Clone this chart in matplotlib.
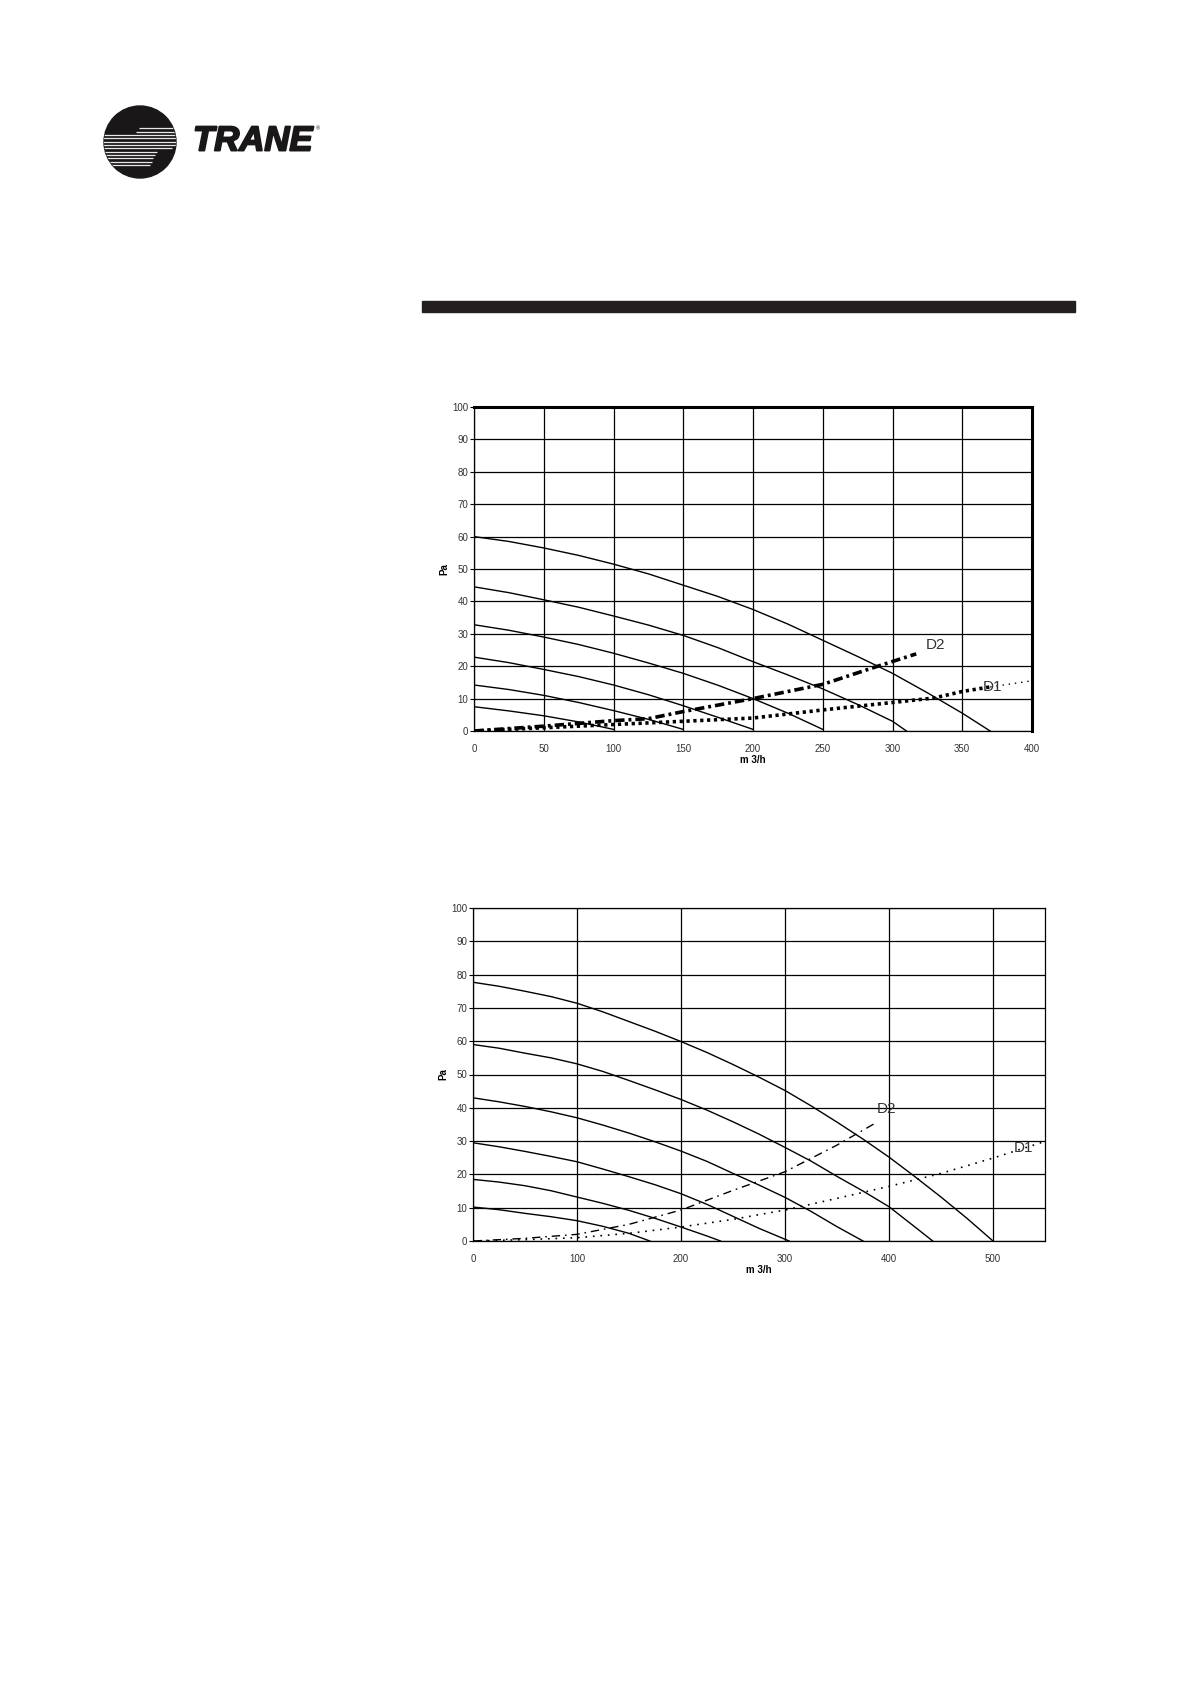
import matplotlib
matplotlib.use("Agg")
import matplotlib.pyplot as plt
import matplotlib.patches as mpatches
import matplotlib.patheffects as pe

plt.rcParams['font.family'] = ['Liberation Sans', 'DejaVu Sans']

# Chart 1 (top): fan curves and duct curves D1 / D2
top_fan_x = [
    [0, 25, 50, 75, 100, 125, 150, 175, 200, 225, 250, 275, 300, 325, 350, 370],
    [0, 25, 50, 75, 100, 125, 150, 175, 200, 225, 250, 275, 300, 310],
    [0, 25, 50, 75, 100, 125, 150, 175, 200, 225, 250],
    [0, 25, 50, 75, 100, 125, 150, 175, 200],
    [0, 25, 50, 75, 100, 125, 150],
    [0, 25, 50, 75, 100],
]
top_fan_y = [
    [60, 58.5, 56.5, 54.2, 51.5, 48.5, 45, 41.5, 37.5, 33, 28, 23, 17.8, 11.8, 5.5, 0],
    [44.5, 42.7, 40.5, 38.2, 35.5, 32.7, 29.5, 25.7, 21.4, 17.3, 13, 8.2, 3, 0],
    [32.8, 31.1, 29, 26.7, 24, 21, 17.8, 14.1, 10, 5.5, 0.5],
    [22.8, 21.1, 19, 16.8, 14.2, 11.2, 7.8, 4.2, 0.5],
    [14.2, 12.8, 11, 8.8, 6.3, 3.6, 0.5],
    [7.5, 6.2, 4.7, 2.8, 0.5],
]
top_d2_x = [0, 50, 100, 125, 150, 200, 250, 288, 317]
top_d2_y = [0, 1.5, 3.2, 3.8, 6, 10, 14.4, 19.8, 23.8]
top_d1_x = [0, 50, 100, 150, 200, 250, 300, 330, 350, 370]
top_d1_y = [0, 1.0, 2.0, 3.0, 4.0, 6.5, 8.8, 10.2, 12.2, 13.6]
top_d1_ext_x = [370, 400]
top_d1_ext_y = [13.6, 15.5]

# Chart 2 (bottom)
bot_fan_x = [
    [0, 25, 50, 75, 100, 125, 150, 175, 200, 225, 250, 275, 300, 325, 350, 375, 400, 425, 450, 475, 500],
    [0, 25, 50, 75, 100, 125, 150, 175, 200, 225, 250, 275, 300, 325, 350, 375, 400, 425, 442],
    [0, 25, 50, 75, 100, 125, 150, 175, 200, 225, 250, 275, 300, 325, 350, 375],
    [0, 25, 50, 75, 100, 125, 150, 175, 200, 225, 250, 275, 304],
    [0, 25, 50, 75, 100, 125, 150, 175, 200, 225, 238],
    [0, 25, 50, 75, 100, 125, 150, 170],
]
bot_fan_y = [
    [77.7, 76.5, 75, 73.4, 71.4, 68.8, 65.9, 63, 59.9, 56.6, 53, 49.2, 45.2, 40.6, 35.7, 30.6, 25.2, 19.3, 13.2, 6.8, 0],
    [59, 57.9, 56.4, 55, 53.2, 50.9, 48.2, 45.4, 42.5, 39.3, 35.8, 32.1, 28.1, 24, 19.4, 15, 10.3, 4.2, 0],
    [43, 41.8, 40.4, 38.8, 37, 34.8, 32.4, 29.8, 27, 23.9, 20.3, 16.8, 13.1, 8.9, 4.3, 0],
    [29.5, 28.3, 26.9, 25.4, 23.8, 21.6, 19.3, 16.9, 14.2, 11, 7.4, 3.8, 0],
    [18.5, 17.7, 16.6, 15.1, 13.2, 11.3, 9.2, 6.8, 4.2, 1.5, 0],
    [10.2, 9.4, 8.3, 7.3, 6.1, 4.4, 2.3, 0],
]
bot_d2_x = [0, 50, 100, 150, 200, 250, 300, 320, 350, 388]
bot_d2_y = [0, 0.8, 2.0, 5.0, 9.3, 15.2, 20.8, 24, 28.8, 35.6]
bot_d1_x = [0, 50, 100, 150, 200, 250, 300, 350, 400, 450, 500, 550]
bot_d1_y = [0, 0.4, 1.0, 2.3, 4.2, 6.5, 9.3, 12.8, 16.4, 20.3, 24.9, 29.9]

y_ticks = list(range(0, 101, 10))
top_x_ticks = list(range(0, 401, 50))
bot_x_ticks = list(range(0, 501, 100))

W, H = 1191, 1684
fig = plt.figure(figsize=(W / 100, H / 100), dpi=100)

# page decoration: logo and black bar, in pixel coordinates
bg = fig.add_axes([0, 0, 1, 1], zorder=0)
bg.set_xlim(0, W)
bg.set_ylim(H, 0)
bg.axis("off")
circ = mpatches.Circle((140, 142), 36, color="#1a1718")
bg.add_patch(circ)
stripes = [(128.3, 139, 174), (131.7, 136, 175), (135, 100, 177), (138.3, 100, 177),
           (141.7, 100, 177), (145, 100, 176), (148.3, 100, 172), (151.7, 100, 157),
           (155, 100, 155), (158.3, 100, 153), (161.7, 100, 152), (165, 100, 150)]
for sy, sx0, sx1 in stripes:
    ln, = bg.plot([sx0, sx1], [sy, sy], color="#e8e8e8", lw=0.9, solid_capstyle="butt")
    ln.set_clip_path(circ)
bg.text(193, 141, "TRANE", fontsize=25, fontweight="bold", fontstyle="italic",
        color="#1a1718", va="center", ha="left",
        path_effects=[pe.withStroke(linewidth=1.4, foreground="#1a1718")])
bg.text(316, 129, "®", fontsize=4, color="#1a1718", va="center", ha="left")
bg.add_patch(mpatches.Rectangle((422, 301), 653, 11, color="#231f20"))


def draw_chart(ax, xmax, xticks, fan_x, fan_y, d2_x, d2_y, d1_x, d1_y, thick):
    ax.set_xlim(0, xmax)
    ax.set_ylim(0, 100)
    ax.set_xticks(xticks)
    ax.set_yticks(y_ticks)
    ax.grid(True, color="black", lw=0.9)
    ax.set_axisbelow(True)
    for s in ax.spines.values():
        s.set_linewidth(0.9)
    ax.tick_params(axis="x", length=0, pad=9, labelsize=7, labelcolor="#333333")
    ax.tick_params(axis="y", length=3, width=0.8, pad=1, labelsize=7, labelcolor="#333333")
    for fx, fy in zip(fan_x, fan_y):
        ax.plot(fx, fy, color="black", lw=1.0)
    if thick:
        ax.plot(d2_x, d2_y, color="black", lw=2.6, dashes=(2.6, 1.1, 0.8, 1.1))
        ax.plot(d1_x, d1_y, color="black", lw=2.6, dashes=(0.9, 1.0))
    else:
        ax.plot(d2_x, d2_y, color="black", lw=1.0, dashes=(6, 3.5, 1.2, 3.5))
        ax.plot(d1_x, d1_y, color="black", lw=1.2, dashes=(1, 3.5))
    ax.set_ylabel("Pa", fontsize=7, fontweight="bold", labelpad=2)
    ax.set_xlabel("m 3/h", fontsize=7, fontweight="bold", labelpad=1)


ax1 = fig.add_axes([474 / W, 1 - 731 / H, 558 / W, 324 / H], zorder=1)
draw_chart(ax1, 400, top_x_ticks, top_fan_x, top_fan_y,
           top_d2_x, top_d2_y, top_d1_x, top_d1_y, True)
ax1.plot(top_d1_ext_x, top_d1_ext_y, color="black", lw=1.0, dashes=(1, 3.5))
ax1.spines["top"].set_linewidth(2.2)
ax1.spines["right"].set_linewidth(2.2)
ax1.text(331, 26.5, "D2", fontsize=11, color="#333333", ha="center", va="center")
ax1.text(372, 13.6, "D1", fontsize=11, color="#333333", ha="center", va="center")

ax2 = fig.add_axes([473 / W, 1 - 1241 / H, 572 / W, 333 / H], zorder=1)
draw_chart(ax2, 550, bot_x_ticks, bot_fan_x, bot_fan_y,
           bot_d2_x, bot_d2_y, bot_d1_x, bot_d1_y, False)
ax2.text(398, 39.7, "D2", fontsize=11, color="#333333", ha="center", va="center")
ax2.text(529.5, 27.8, "D1", fontsize=11, color="#333333", ha="center", va="center")

fig.savefig("out.png", dpi=100)
